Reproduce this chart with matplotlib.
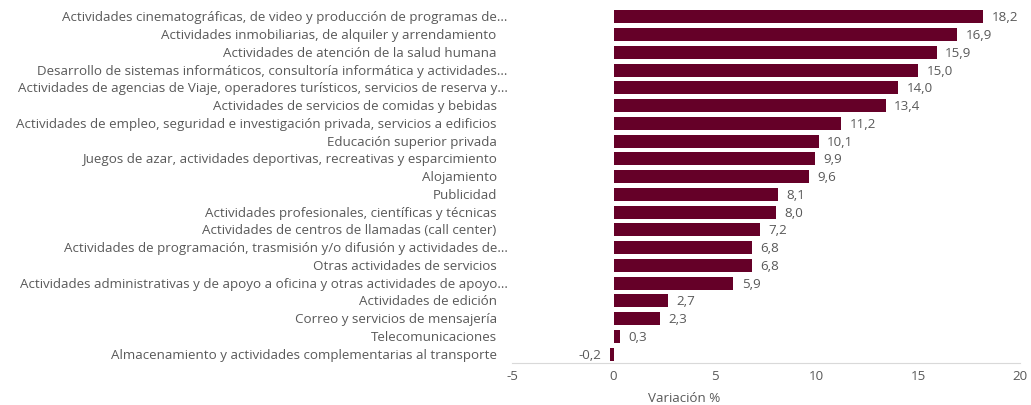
import matplotlib
matplotlib.use('Agg')
import matplotlib.pyplot as plt

categories = [
    'Actividades cinematográficas, de video y producción de programas de...',
    'Actividades inmobiliarias, de alquiler y arrendamiento',
    'Actividades de atención de la salud humana',
    'Desarrollo de sistemas informáticos, consultoría informática y actividades...',
    'Actividades de agencias de Viaje, operadores turísticos, servicios de reserva y...',
    'Actividades de servicios de comidas y bebidas',
    'Actividades de empleo, seguridad e investigación privada, servicios a edificios',
    'Educación superior privada',
    'Juegos de azar, actividades deportivas, recreativas y esparcimiento',
    'Alojamiento',
    'Publicidad',
    'Actividades profesionales, científicas y técnicas',
    'Actividades de centros de llamadas (call center)',
    'Actividades de programación, trasmisión y/o difusión y actividades de...',
    'Otras actividades de servicios',
    'Actividades administrativas y de apoyo a oficina y otras actividades de apoyo...',
    'Actividades de edición',
    'Correo y servicios de mensajería',
    'Telecomunicaciones',
    'Almacenamiento y actividades complementarias al transporte',
]
values = [18.2, 16.9, 15.9, 15.0, 14.0, 13.4, 11.2, 10.1, 9.9, 9.6,
          8.1, 8.0, 7.2, 6.8, 6.8, 5.9, 2.7, 2.3, 0.3, -0.2]
xticks = [-5, 0, 5, 10, 15, 20]

bar_color = '#650028'
text_color = '#595959'
fs = 9.6
plt.rcParams['font.family'] = ['Open Sans', 'DejaVu Sans']

fig = plt.figure(figsize=(10.31, 4.06), dpi=100)
ax = fig.add_axes([0.4966, 0.1034, 0.4927, 0.8744])

pos = list(range(len(values)))
ax.barh(pos, values, height=0.74, color=bar_color)
ax.set_ylim(len(values) - 0.5, -0.5)
ax.set_xlim(-5, 20)
ax.set_xticks(xticks)
ax.set_xticklabels([str(t) for t in xticks], fontsize=fs, color=text_color)
ax.tick_params(axis='x', length=0, pad=4)
ax.set_yticks([])

for s in ['top', 'right', 'left']:
    ax.spines[s].set_visible(False)
ax.spines['bottom'].set_color('#d9d9d9')

# category labels, right aligned left of the plot
for i, name in enumerate(categories):
    dx = -3 if name.endswith('...') else -11
    ax.annotate(name, xy=(-5, i), xytext=(dx, 0), textcoords='offset points',
                ha='right', va='center', fontsize=fs, color=text_color,
                annotation_clip=False)

for i, v in enumerate(values):
    lbl = f'{v:.1f}'.replace('.', ',')
    if v >= 0:
        ax.annotate(lbl, xy=(v, i), xytext=(6, 0), textcoords='offset points',
                    ha='left', va='center', fontsize=fs, color=text_color)
    else:
        ax.annotate(lbl, xy=(v, i), xytext=(-6, 0), textcoords='offset points',
                    ha='right', va='center', fontsize=fs, color=text_color)

fig.text(0.664, 0.003, 'Variación %', ha='center', va='bottom', fontsize=fs,
         color=text_color)

fig.savefig('out.png', dpi=100)
